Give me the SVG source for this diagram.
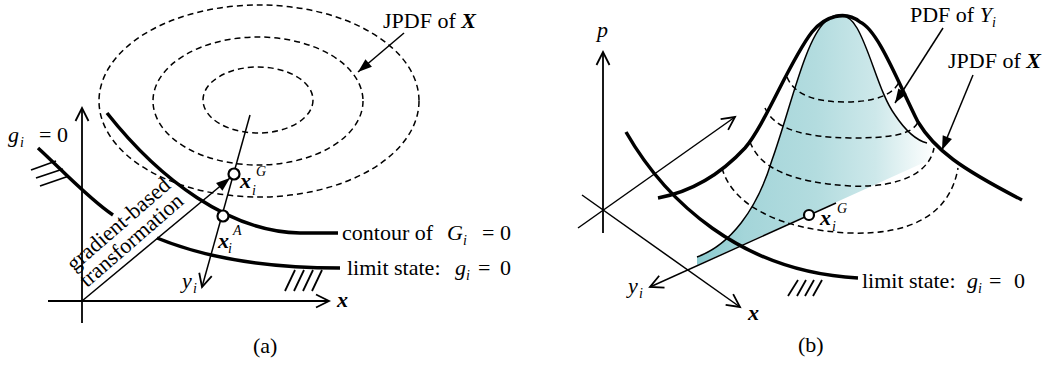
<svg xmlns="http://www.w3.org/2000/svg" width="1045" height="368" viewBox="0 0 1045 368">
<style>
text{font-family:"Liberation Serif","Times New Roman",serif;font-size:22px;fill:#000}
.it{font-style:italic}
.bi{font-style:italic;font-weight:bold}
.sm{font-size:14px;font-style:italic}
.ax{stroke:#000;stroke-width:1.8;fill:none}
.thick{stroke:#000;stroke-width:3.5;fill:none;stroke-linecap:butt}
.thin{stroke:#000;stroke-width:1.5;fill:none}
.dash{stroke:#000;stroke-width:1.5;fill:none;stroke-dasharray:6 4}
.hatch{stroke:#000;stroke-width:1.8}
.pt{fill:#fff;stroke:#000;stroke-width:2.2}
</style>
<defs>
<marker id="open" markerUnits="userSpaceOnUse" markerWidth="30" markerHeight="30" viewBox="-20 -15 30 30" refX="0" refY="0" orient="auto" overflow="visible">
<path d="M-13,-6.5 L0,0 L-13,6.5" fill="none" stroke="#000" stroke-width="1.8"/>
</marker>
<marker id="fill" markerUnits="userSpaceOnUse" markerWidth="30" markerHeight="30" viewBox="-20 -15 30 30" refX="0" refY="0" orient="auto" overflow="visible">
<path d="M-14,-5 L0,0 L-14,5 Z" fill="#000"/>
</marker>
<linearGradient id="shade" gradientUnits="userSpaceOnUse" x1="697" y1="0" x2="935" y2="0">
<stop offset="0" stop-color="#8acacf"/>
<stop offset="0.2" stop-color="#a4d5d9"/>
<stop offset="0.5" stop-color="#b3dcdf"/>
<stop offset="0.75" stop-color="#cde8ea"/>
<stop offset="1" stop-color="#ffffff"/>
</linearGradient>
</defs>

<!-- ===== Panel (a) ===== -->
<g id="a-contours">
<ellipse class="dash" cx="259" cy="101" rx="160" ry="96"/>
<ellipse class="dash" cx="258" cy="101" rx="105" ry="64"/>
<ellipse class="dash" cx="258" cy="100" rx="55" ry="33"/>
</g>

<g id="a-curves">
<path class="thick" d="M38,148 C60,168 90,200 113,215"/>
<path class="thick" d="M107,113 C160,180 230,232 300,233 L338,233"/>
<path class="thick" d="M157,238 Q230,268 340,268"/>
</g>

<g id="a-hatch">
<line class="hatch" x1="31" y1="170" x2="56" y2="161"/>
<line class="hatch" x1="36" y1="178" x2="63" y2="169"/>
<line class="hatch" x1="40" y1="186" x2="69" y2="176"/>
<line class="hatch" x1="285" y1="291" x2="295" y2="270"/>
<line class="hatch" x1="294" y1="291" x2="304" y2="270"/>
<line class="hatch" x1="303" y1="291" x2="313" y2="270"/>
<line class="hatch" x1="312" y1="291" x2="322" y2="270"/>
</g>

<g id="a-connectors">
<line class="ax" x1="82" y1="323" x2="82" y2="108" marker-end="url(#open)"/>
<line class="ax" x1="48" y1="301" x2="329" y2="301" marker-end="url(#open)"/>
<line class="thin" x1="82" y1="301" x2="230" y2="178" marker-end="url(#fill)"/>
<line class="thin" x1="250" y1="115" x2="202" y2="287" marker-end="url(#open)"/>
<line class="thin" x1="404" y1="33" x2="358" y2="72" marker-end="url(#fill)"/>
</g>

<g id="a-points">
<circle class="pt" cx="234" cy="174" r="5.5"/>
<circle class="pt" cx="223" cy="216" r="5.5"/>
</g>

<g id="a-labels">
<text x="8" y="142" class="it">g</text>
<text x="20" y="147" class="sm">i</text>
<text x="39" y="142">=</text>
<text x="57" y="142">0</text>
<text x="383" y="28">JPDF of <tspan class="bi">X</tspan></text>
<text x="240" y="188" class="bi">x</text>
<text x="252" y="195" class="sm">i</text>
<text x="256" y="176" class="sm">G</text>
<text x="218" y="248" class="bi">x</text>
<text x="228" y="253" class="sm">i</text>
<text x="233" y="235" class="sm">A</text>
<text x="182" y="288" class="it">y</text>
<text x="193" y="293" class="sm">i</text>
<text x="337" y="307" class="bi">x</text>
<text x="342" y="240">contour of</text>
<text x="447" y="240" class="it">G</text>
<text x="463" y="245" class="sm">i</text>
<text x="482" y="240">= 0</text>
<text x="347" y="275">limit state:</text>
<text x="455" y="275" class="it">g</text>
<text x="466" y="280" class="sm">i</text>
<text x="478" y="275">=</text>
<text x="500" y="275">0</text>
<text x="123" y="229.5" transform="rotate(-41 123 229.5)" text-anchor="middle" font-size="17.5">gradient-based</text>
<text x="136" y="245.5" transform="rotate(-41 136 245.5)" text-anchor="middle" font-size="17.5">transformation</text>
<text x="253" y="353" font-size="26">(a)</text>
</g>

<!-- ===== Panel (b) ===== -->
<g id="b-shade">
<path fill="url(#shade)" d="M697,257 C730,245 757,210 772,160 C790,110 805,40 825,22 C835,12 848,12 857,28 C870,50 880,95 895,115 C905,130 915,140 927,143 L945,153 L697,265 Z"/>
</g>

<g id="b-dashed">
<path class="dash" d="M787,77 C795,97 820,102 845,102 C875,102 893,95 899,82"/>
<path class="dash" d="M765,108 C775,130 805,137 850,138 C890,138 912,135 918,122"/>
<path class="dash" d="M750,142 C760,168 790,182 850,186 C905,188 930,170 934,148"/>
<path class="dash" d="M722,168 C732,205 780,230 850,233 C910,235 950,215 958,168"/>
</g>

<g id="b-curves">
<path class="thin" d="M697,257 C730,245 757,210 772,160 C790,110 805,40 825,22 C835,12 848,12 857,28 C870,50 880,95 895,115 C905,130 915,140 927,143"/>
<path class="thick" d="M658,198 C690,192 720,175 745,148 C765,125 790,60 812,32 C825,16 845,10 860,22 C878,30 897,80 918,122 C935,150 960,168 1022,200"/>
<path class="thick" d="M626,132 C665,200 740,272 858,278"/>
</g>

<g id="b-hatch">
<line class="hatch" x1="788" y1="296" x2="798" y2="280"/>
<line class="hatch" x1="797" y1="296" x2="806" y2="280"/>
<line class="hatch" x1="805" y1="296" x2="814" y2="280"/>
<line class="hatch" x1="813" y1="296" x2="822" y2="280"/>
</g>

<g id="b-connectors">
<line class="ax" x1="603" y1="233" x2="603" y2="52" marker-end="url(#open)"/>
<line class="thin" x1="578" y1="228" x2="735" y2="117" marker-end="url(#open)"/>
<line class="thin" x1="582" y1="195" x2="740" y2="307" marker-end="url(#open)"/>
<line class="thin" x1="836" y1="203" x2="650" y2="287" marker-end="url(#open)"/>
<line class="thin" x1="943" y1="28" x2="895" y2="103" marker-end="url(#fill)"/>
<line class="thin" x1="973" y1="75" x2="942" y2="150" marker-end="url(#fill)"/>
</g>

<g id="b-points">
<circle class="pt" cx="809" cy="215" r="5"/>
</g>

<g id="b-labels">
<text x="597" y="37" class="it">p</text>
<text x="628" y="293" class="it">y</text>
<text x="639" y="298" class="sm">i</text>
<text x="748" y="320" class="bi">x</text>
<text x="820" y="225" class="bi">x</text>
<text x="832" y="231" class="sm">i</text>
<text x="837" y="213" class="sm">G</text>
<text x="910" y="22">PDF of <tspan class="it">Y</tspan><tspan class="sm" dy="5">i</tspan></text>
<text x="948" y="68">JPDF of <tspan class="bi">X</tspan></text>
<text x="862" y="288">limit state:</text>
<text x="967" y="288" class="it">g</text>
<text x="978" y="293" class="sm">i</text>
<text x="989" y="288">=</text>
<text x="1014" y="288">0</text>
<text x="798" y="352" font-size="26">(b)</text>
</g>
</svg>
